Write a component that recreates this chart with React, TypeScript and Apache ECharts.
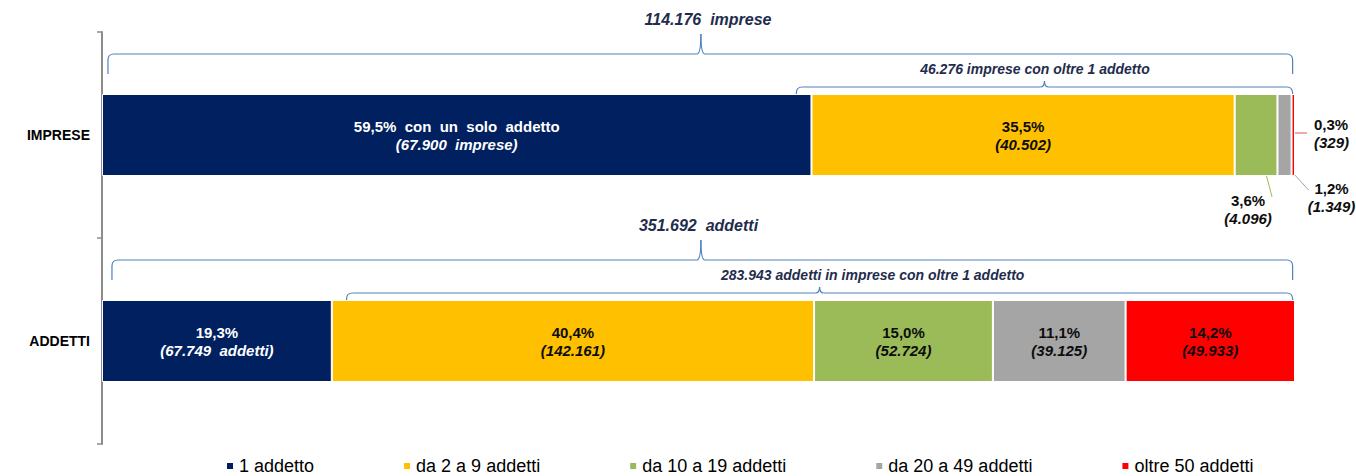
import React, { useEffect, useRef } from "react";
import * as echarts from "echarts";

const CATEGORIES = ["IMPRESE", "ADDETTI"];
const SERIES_NAMES = ["1 addetto", "da 2 a 9 addetti", "da 10 a 19 addetti", "da 20 a 49 addetti", "oltre 50 addetti"];
const COLORS = ["#002060", "#FFC000", "#9BBB59", "#A5A5A5", "#FF0000"];
const IMPRESE_COUNTS = [67900, 40502, 4096, 1349, 329];
const ADDETTI_COUNTS = [67749, 142161, 52724, 39125, 49933];
const TOTALS = [114176, 351692];
const OVER1_TOTALS = [46276, 283943];
const TOTAL_UNITS = ["imprese", "addetti"];
const OVER1_TEXTS = ["imprese con oltre 1 addetto", "addetti in imprese con oltre 1 addetto"];

const FONT = "'Liberation Sans', Arial, Helvetica, sans-serif";
const BRACE_COLOR = "#4F81BD";
const TITLE_COLOR = "#1F2D4D";
const BAR_W = 82;

const fmtInt = (n: number) => String(n).replace(/\B(?=(\d{3})+(?!\d))/g, ".");
const fmtPct = (v: number) => v.toFixed(1).replace(".", ",") + "%";

const COUNTS = [IMPRESE_COUNTS, ADDETTI_COUNTS];
const share = (cat: number, s: number) => (COUNTS[cat][s] / TOTALS[cat]) * 100;

function brace(x1: number, x2: number, xm: number, y: number, endH: number, tipH: number) {
  const r = Math.min(6, endH);
  const t = 4;
  const style = { stroke: BRACE_COLOR, lineWidth: 1.2, fill: "none" };
  const els: any[] = [];
  els.push({ type: "line", shape: { x1: x1, y1: y + endH, x2: x1, y2: y + r }, style, silent: true });
  els.push({ type: "bezierCurve", shape: { x1: x1, y1: y + r, x2: x1 + r, y2: y, cpx1: x1, cpy1: y }, style, silent: true });
  els.push({ type: "line", shape: { x1: x1 + r, y1: y, x2: xm - t, y2: y }, style, silent: true });
  els.push({ type: "bezierCurve", shape: { x1: xm - t, y1: y, x2: xm, y2: y - tipH, cpx1: xm, cpy1: y }, style, silent: true });
  els.push({ type: "bezierCurve", shape: { x1: xm + t, y1: y, x2: xm, y2: y - tipH, cpx1: xm, cpy1: y }, style, silent: true });
  els.push({ type: "line", shape: { x1: xm + t, y1: y, x2: x2 - r, y2: y }, style, silent: true });
  els.push({ type: "bezierCurve", shape: { x1: x2 - r, y1: y, x2: x2, y2: y + r, cpx1: x2, cpy1: y }, style, silent: true });
  els.push({ type: "line", shape: { x1: x2, y1: y + r, x2: x2, y2: y + endH }, style, silent: true });
  return els;
}

export default function App() {
  const ref = useRef<HTMLDivElement>(null);

  useEffect(() => {
    document.body.style.margin = "0";
    if (!ref.current) return;
    const chart = echarts.init(ref.current, undefined, { renderer: "svg" });

    const rich = (color: string) => ({
      a: { fontFamily: FONT, fontSize: 15, fontWeight: "bold", color, lineHeight: 18 },
      b: { fontFamily: FONT, fontSize: 15, fontWeight: "bold", fontStyle: "italic", color, lineHeight: 18 },
    });

    const series = SERIES_NAMES.map((name, s) => {
      const textColor = s === 0 ? "#FFFFFF" : "#0D0D0D";
      const data = CATEGORIES.map((_, c) => {
        const v = share(c, s);
        const item: any = { value: v };
        if (c === 0 && s === 2) item.label = { position: "bottom", offset: [-8, 10], distance: 5, rich: rich("#0D0D0D") };
        if (c === 0 && s === 3) item.label = { position: "bottom", offset: [47, -2], distance: 5, rich: rich("#0D0D0D") };
        if (c === 0 && s === 4) item.label = { position: "right", offset: [14, -2], distance: 5, rich: rich("#0D0D0D") };
        return item;
      });
      return {
        type: "bar",
        name,
        stack: "total",
        barWidth: BAR_W,
        itemStyle: { color: COLORS[s], borderColor: "#FFFFFF", borderWidth: 1 },
        label: {
          show: true,
          position: "inside",
          rich: rich(textColor),
          formatter: (p: any) => {
            const c = p.dataIndex;
            const pct = fmtPct(share(c, s));
            const cnt = fmtInt(COUNTS[c][s]);
            if (s === 0 && c === 0) return `{a|${pct}  con  un  solo  addetto}\n{b|(${cnt}  imprese)}`;
            if (s === 0 && c === 1) return `{a|${pct}}\n{b|(${cnt}  addetti)}`;
            return `{a|${pct}}\n{b|(${cnt})}`;
          },
        },
        data,
      };
    });

    const option: any = {
      animation: false,
      textStyle: { fontFamily: FONT },
      grid: { left: 102, right: 61, top: 32, bottom: 32, containLabel: false },
      xAxis: { type: "value", min: 0, max: 100, show: false },
      yAxis: {
        type: "category",
        inverse: true,
        data: CATEGORIES,
        axisLine: { show: true, lineStyle: { color: "#8C8C8C", width: 2 } },
        axisTick: { show: true, length: 5, lineStyle: { color: "#8C8C8C", width: 1.5 } },
        axisLabel: { fontFamily: FONT, fontSize: 14, fontWeight: "bold", color: "#000", margin: 12 },
        splitLine: { show: false },
      },
      legend: {
        data: SERIES_NAMES,
        top: 452,
        left: 220,
        icon: "rect",
        itemWidth: 8,
        itemHeight: 8,
        itemGap: 88,
        textStyle: { fontFamily: FONT, fontSize: 18, color: "#000" },
      },
      series,
    };
    chart.setOption(option);

    const px = (v: number, c: number) => chart.convertToPixel({ xAxisIndex: 0, yAxisIndex: 0 }, [v, c]) as number[];
    const graphic: any[] = [];
    const over1Left = [58.2, 20.5];
    const over1TextX = [78.2, 64.6];
    const titleX = [50.8, 50.0];
    for (let c = 0; c < 2; c++) {
      const center = px(0, c)[1];
      const top = center - BAR_W / 2;
      const bottom = center + BAR_W / 2;
      const x0 = px(0.5, c)[0];
      const x100 = px(99.8, c)[0];
      const xmid = px(50.2, c)[0];
      // big brace
      const yb = top - 40;
      graphic.push(...brace(x0 + (c === 1 ? 4 : 0), x100, xmid, yb, 20, 20));
      graphic.push({
        type: "text",
        x: px(titleX[c], c)[0],
        y: yb - 35,
        style: {
          text: `${fmtInt(TOTALS[c])}  ${TOTAL_UNITS[c]}`,
          fill: TITLE_COLOR,
          font: `italic bold 16px ${FONT}`,
          align: "center",
          verticalAlign: "middle",
        },
        silent: true,
      });
      // small brace
      const ys = top - 7;
      const xl = px(over1Left[c], c)[0];
      graphic.push(...brace(xl, x100, (xl + x100) / 2, ys, 7, 6));
      graphic.push({
        type: "text",
        x: px(over1TextX[c], c)[0],
        y: ys - 18,
        style: {
          text: `${fmtInt(OVER1_TOTALS[c])} ${OVER1_TEXTS[c]}`,
          fill: TITLE_COLOR,
          font: `italic bold 14px ${FONT}`,
          align: "center",
          verticalAlign: "middle",
        },
        silent: true,
      });
      if (c === 0) {
        let cum = 0;
        const segs: number[][] = [];
        for (let s = 0; s < 5; s++) {
          const v = share(0, s);
          segs.push([px(cum, 0)[0], px(cum + v, 0)[0]]);
          cum += v;
        }
        const gC = (segs[2][0] + segs[2][1]) / 2;
        const grC = (segs[3][0] + segs[3][1]) / 2;
        const rE = segs[4][1];
        graphic.push({ type: "line", shape: { x1: gC + 7, y1: bottom - 13, x2: gC + 16, y2: bottom + 21 }, style: { stroke: COLORS[2], lineWidth: 1 }, silent: true });
        graphic.push({ type: "line", shape: { x1: grC + 4, y1: bottom - 8, x2: grC + 24, y2: bottom + 14 }, style: { stroke: COLORS[3], lineWidth: 1 }, silent: true });
        graphic.push({ type: "line", shape: { x1: rE - 3, y1: center - 2, x2: rE + 12, y2: center - 2 }, style: { stroke: "#E05050", lineWidth: 1 }, silent: true });
      }
    }
    chart.setOption({ graphic });

    return () => chart.dispose();
  }, []);

  return <div ref={ref} style={{ width: 1356, height: 476 }} />;
}
